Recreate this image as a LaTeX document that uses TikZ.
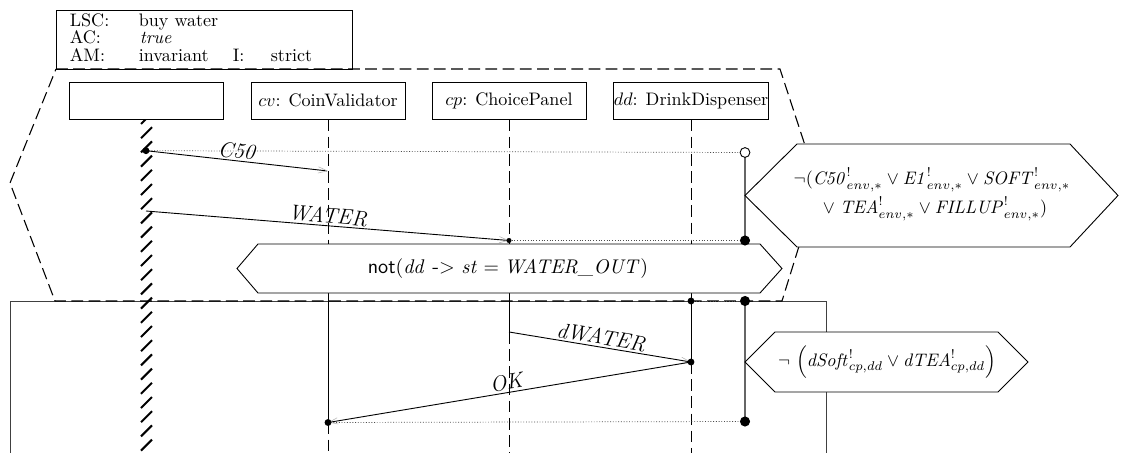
\documentclass[tikz,border=0pt]{standalone}
\usetikzlibrary{arrows.meta}
\begin{document}
\begin{tikzpicture}[x=0.553pt,y=-0.553pt,
  ln/.style={line width=0.5pt},
  dsh/.style={line width=0.5pt, dash pattern=on 6.5pt off 3pt},
  pdsh/.style={line width=0.6pt, dash pattern=on 6.5pt off 3pt},
  instbox/.style={draw, line width=0.5pt, minimum width=154*0.553pt, minimum height=37*0.553pt, inner sep=0pt},
  msg/.style={line width=0.5pt, -{Straight Barb[length=5pt,width=3.5pt,line width=0.3pt,color=black!30]}},
  lab/.style={sloped, above, inner sep=1.2pt, midway, font=\large},
  hexa/.style={draw, fill=white, line width=0.5pt},
  sdot/.style={circle, fill, inner sep=0pt, minimum size=3.8pt},
  tdot/.style={circle, fill, inner sep=0pt, minimum size=2.8pt},
  bdot/.style={circle, fill, inner sep=0pt, minimum size=5.6pt},
  odot/.style={circle, draw, fill=white, line width=0.5pt, inner sep=0pt, minimum size=5.4pt},
  cold/.style={draw=black!60, line width=0.7pt},
  dots/.style={line width=0.4pt, black!70, dash pattern=on 0.5pt off 1pt},
  htxt/.style={anchor=base west, inner sep=0pt}
]
\useasboundingbox (0,0) rectangle (1128,453);

% lower (hot) box
\draw[ln, black!75] (10,470) -- (10,301) -- (826,301) -- (826,470);

% dashed prechart hexagon
\draw[pdsh] (56,69) -- (780,69) -- (818,185) -- (782,301) -- (55,301) -- (10,183) -- cycle;

% header
\node[draw, line width=0.5pt, anchor=north west, minimum width=296*0.553pt, minimum height=59*0.553pt, inner sep=0pt] (hdr) at (56,10) {};
\node[htxt] (hL) at (69.5,26.5) {LSC:};
\node[htxt] (hLv) at (138.5,26.5) {buy water};
\node[htxt] (hA) at (69.5,43.5) {AC:};
\node[htxt] (hAv) at (139.5,43.5) {\textit{true}};
\node[htxt] (hM) at (69.5,61.5) {AM:};
\node[htxt] (hMv) at (138.5,61.5) {invariant};
\node[htxt] (hI) at (232.5,61.5) {I:};
\node[htxt] (hIv) at (270.5,61.5) {strict};

% instances
\node[instbox] (env) at (146,100.5) {};
\node[instbox] (cv) at (328,100.5) {$cv$: CoinValidator};
\node[instbox] (cp) at (509,100.5) {$cp$: ChoicePanel};
\node[instbox] (dd) at (691,100.5) {$dd$: DrinkDispenser};

% coordinates
\coordinate (eC) at (146,150.7);
\coordinate (cvC) at (328,171);
\coordinate (eW) at (146,211);
\coordinate (cpW) at (509,240.5);
\coordinate (cvT) at (328,301);
\coordinate (cvOK) at (328,422.5);
\coordinate (cvB) at (328,470);
\coordinate (cpT) at (509,301);
\coordinate (cpD) at (509,332);
\coordinate (cpB) at (509,470);
\coordinate (ddT) at (691,301);
\coordinate (ddD) at (691,362);
\coordinate (ddB) at (691,470);
\coordinate (circ) at (745,152.5);
\coordinate (bd1) at (745,240.5);
\coordinate (bd2) at (745,301);
\coordinate (bd3) at (745,421.5);

% lifelines
\draw[dsh] (cv.south) -- (cvT);
\draw[ln] (cvT) -- (cvOK);
\draw[dsh] (cvOK) -- (cvB);
\draw[dsh] (cp.south) -- (cpT);
\draw[ln] (cpT) -- (cpD);
\draw[dsh] (cpD) -- (cpB);
\draw[dsh] (dd.south) -- (ddT);
\draw[ln] (ddT) -- (ddD);
\draw[dsh] (ddD) -- (ddB);

% environment lifeline (hatched)
\begin{scope}
\clip (125,119) rectangle (170,460);
\foreach \k in {0,...,24} {
  \pgfmathsetmacro{\yy}{118.5+14.2*\k}
  \draw[line width=1.1pt] (141,\yy+5.5) -- (152,\yy-5.5);
}
\end{scope}

% dotted guide lines
\draw[dots] (eC) -- (circ);
\draw[dots] (cpW) -- (bd1);
\draw[dots] (ddT) -- (bd2);
\draw[dots] (cvOK) -- (bd3);

% cold condition bars
\draw[cold] (circ) -- (bd1);
\draw[cold] (bd2) -- (bd3);

% messages
\draw[msg] (eC) -- node[lab] {$\mathit{C50}$} (cvC);
\draw[msg] (eW) -- node[lab] {$\mathit{WATER}$} (cpW);
\draw[msg] (cpD) -- node[lab] {$\mathit{dWATER}$} (ddD);
\draw[msg] (ddD) -- node[lab] {$\mathit{OK}$} (cvOK);

% not condition
\draw[hexa] (237,268.5) -- (258,244) -- (760,244) -- (782,268.5) -- (760,293) -- (258,293) -- cycle;
\node[font=\fontsize{11.4}{13}\selectfont] (notc) at (508,268.5) {\textsf{not}$(\mathit{dd}$ \textsf{->} $\mathit{st} = \mathit{WATER}\textit{\_}\mathit{OUT})$};

% condition 1
\draw[hexa] (745,195.5) -- (797,144) -- (1070,144) -- (1118,195.5) -- (1070,247) -- (797,247) -- cycle;
\node (c1a) at (932,180) {$\neg(\mathit{C50}^!_{env,*}\vee\mathit{E1}^!_{env,*}\vee\mathit{SOFT}^!_{env,*}$};
\node (c1b) at (935,209) {$\vee\;\mathit{TEA}^!_{env,*}\vee\mathit{FILLUP}^!_{env,*})$};

% condition 2
\draw[hexa] (745,362) -- (775,332) -- (998,332) -- (1028,362) -- (998,392) -- (775,392) -- cycle;
\node[font=\fontsize{9.8}{12}\selectfont] (c2) at (887,362) {$\neg\,\left(\mathit{dSoft}^!_{cp,dd}\vee\mathit{dTEA}^!_{cp,dd}\right)$};

% dots
\node[sdot] (d1) at (eC) {};
\node[tdot] (d2) at (cpW) {};
\node[sdot] (d3) at (ddT) {};
\node[sdot] (d4) at (ddD) {};
\node[sdot] (d5) at (cvOK) {};
\node[odot] (o1) at (circ) {};
\node[bdot] (b1) at (bd1) {};
\node[bdot] (b2) at (bd2) {};
\node[bdot] (b3) at (bd3) {};
\end{tikzpicture}
\end{document}
